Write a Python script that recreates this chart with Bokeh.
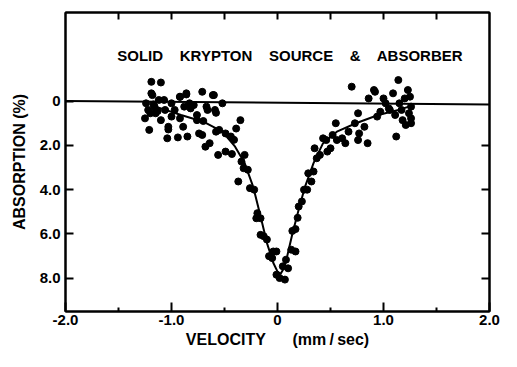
from bokeh.plotting import figure
from bokeh.models import Range1d, LinearAxis, FixedTicker, Label
from bokeh.embed import file_html
from bokeh.resources import INLINE

# ---- data ----
vel = [-1.19, -1.10, -1.18, -1.24, -1.22, -1.25, -1.21, -1.16, -1.15, -1.12,
       -1.07, -1.10, -1.06, -1.04, -1.03, -1.00, -1.00, -0.97, -0.94, -0.92,
       -0.92, -0.89, -0.86, -0.88, -0.85, -0.83, -0.82, -0.79, -0.76, -0.74,
       -0.71, -0.71, -0.68, -0.67, -0.64, -0.61, -0.59, -0.56, -0.58, -0.55,
       -0.52, -0.49, -0.49, -0.44, -0.43, -0.41, -0.39, -0.35, -0.37, -0.34,
       -0.31, -0.32, -0.28, -0.26, -0.22, -0.19, -0.16, -0.20, -0.16, -0.13,
       -0.10, -0.08, -0.05, -0.04, -0.01, -0.01, 0.02, 0.07, 0.05, 0.10,
       0.08, 0.13, 0.17, 0.14, 0.17, 0.19, 0.20, 0.23, 0.25, 0.28,
       0.29, 0.32, 0.34, 0.35, 0.37, 0.40, 0.43, 0.46, 0.47, 0.50,
       0.52, 0.55, 0.56, 0.61, 0.64, 0.67, 0.70, 0.73, 0.76, 0.76,
       0.77, 0.82, 0.85, 0.86, 0.91, 0.92, 0.94, 0.97, 1.00, 1.02,
       1.05, 1.06, 1.09, 1.11, 1.12, 1.14, 1.15, 1.17, 1.18, 1.20,
       1.21, 1.23, 1.25, 1.26, 1.26, 1.24, 1.26, -1.19, -0.92, -0.86,
       -0.60, -0.58, -0.66, -0.76, -1.03, -0.70, -1.13, -1.17, -1.20]
absorp = [-0.87, -0.84, -0.27, 0.10, 0.40, 0.78, 1.30, 0.25, 0.55, -0.05,
          -0.05, 0.86, 0.40, 1.68, 1.16, 0.70, 0.10, 0.40, 1.64, -0.20,
          0.78, 1.16, -0.30, 0.25, 1.60, 0.10, 0.33, 0.18, 0.86, 1.46,
          -0.42, 1.53, 2.06, 0.25, 1.90, -0.27, 0.40, 2.43, 1.38, 1.30,
          0.10, 2.28, 1.46, 1.60, 2.39, 1.75, 1.24, 0.86, 3.63, 2.73,
          2.43, 3.03, 3.10, 3.93, 4.00, 5.06, 5.29, 5.29, 6.04, 6.10,
          6.25, 7.00, 7.09, 6.79, 6.79, 7.84, 7.99, 8.06, 7.46, 7.55,
          7.16, 6.71, 6.79, 5.86, 5.78, 5.27, 4.76, 4.53, 4.00, 4.00,
          3.26, 3.63, 3.18, 2.13, 2.58, 2.43, 1.68, 1.76, 2.28, 2.13,
          1.53, 1.00, 1.76, 1.68, 1.90, 1.38, -0.65, 1.00, 0.55, 1.76,
          1.46, 1.16, 1.90, -0.12, -0.50, -0.42, 0.70, 0.48, -0.12, 0.10,
          0.33, 0.40, -0.35, 0.63, 1.60, -0.95, 0.10, 0.40, 0.86, -0.12,
          1.08, -0.50, -0.20, 0.25, 0.78, 0.55, 1.00, -0.35, -0.19, -0.35,
          -0.27, 0.53, 0.40, 0.63, 1.28, 0.90, 0.45, 0.15, 0.55]

fit_vel = [-1.15, -0.91, -0.70, -0.52, -0.40, -0.31, -0.23, -0.16, -0.10,
           -0.04, 0.00, 0.03, 0.06, 0.08, 0.14, 0.20, 0.26, 0.34, 0.43,
           0.56, 0.74, 0.95, 1.14, 1.24]
fit_abs = [0.25, 0.63, 0.93, 1.38, 2.06, 2.80, 3.86, 5.20, 6.40,
           7.30, 7.70, 7.80, 7.55, 7.24, 6.00, 4.90, 3.86, 2.80, 1.90,
           1.38, 1.00, 0.63, 0.40, 0.25]

base_vel = [-2.0, 2.0]
base_abs = [0.0, 0.15]

x_ticks = [-2, -1, 0, 1, 2]
x_tick_labels = ["-2.0", "-1.0", "0", "1.0", "2.0"]
x_minor_ticks = [-1.5, -0.5, 0.5, 1.5]
top_ticks = [-1.5, -1, -0.5, 0, 0.5, 1, 1.5]
y_ticks = [0, 2, 4, 6, 8]
y_tick_labels = ["0", "2.0", "4.0", "6.0", "8.0"]
right_ticks = [2, 4, 6, 8]

title_text = "SOLID\u00a0\u00a0\u00a0 KRYPTON\u00a0\u00a0\u00a0 SOURCE\u00a0\u00a0\u00a0 &\u00a0\u00a0\u00a0 ABSORBER"
x_label = "VELOCITY\u00a0\u00a0\u00a0\u00a0\u00a0 (mm\u2009/\u2009sec)"
y_label = "ABSORPTION (%)"

FONT = "Liberation Sans"

p = figure(width=501, height=351, x_range=Range1d(-2, 2), y_range=Range1d(9.5, -4.0),
           output_backend="svg", toolbar_location=None,
           min_border_left=65, min_border_right=12, min_border_top=12, min_border_bottom=40)
p.xgrid.visible = False
p.ygrid.visible = False
p.outline_line_color = "black"
p.outline_line_width = 2
p.background_fill_color = "white"
p.border_fill_color = "white"

def style_axis(ax, tick_in, labels=True):
    ax.axis_line_color = "black"
    ax.axis_line_width = 2
    ax.major_tick_in = tick_in
    ax.major_tick_out = 0
    ax.major_tick_line_width = 2
    ax.major_tick_line_color = "black"
    ax.minor_tick_out = 0
    ax.minor_tick_line_width = 2
    ax.minor_tick_line_color = "black"
    if labels:
        ax.major_label_text_font = FONT
        ax.major_label_text_font_style = "bold"
        ax.major_label_text_font_size = "15px"
        ax.major_label_text_color = "black"
        ax.axis_label_text_font = FONT
        ax.axis_label_text_font_style = "bold"
        ax.axis_label_text_font_size = "16px"
        ax.axis_label_text_color = "black"
    else:
        ax.major_label_text_color = None
        ax.major_label_text_font_size = "0px"
        ax.major_label_standoff = 0

xa = p.xaxis[0]
xa.ticker = FixedTicker(ticks=x_ticks, minor_ticks=x_minor_ticks)
xa.major_label_overrides = {t: l for t, l in zip(x_ticks, x_tick_labels)}
style_axis(xa, 9)
xa.minor_tick_in = 4
xa.major_label_standoff = 3
xa.axis_label = x_label
xa.axis_label_standoff = 3

ya = p.yaxis[0]
ya.ticker = FixedTicker(ticks=y_ticks, minor_ticks=[])
ya.major_label_overrides = {t: l for t, l in zip(y_ticks, y_tick_labels)}
style_axis(ya, 8)
ya.minor_tick_in = 0
ya.major_label_standoff = 5
ya.axis_label = y_label
ya.axis_label_standoff = 9

top = LinearAxis(ticker=FixedTicker(ticks=top_ticks, minor_ticks=[]))
style_axis(top, 7, labels=False)
top.minor_tick_in = 0
p.add_layout(top, "above")

right = LinearAxis(ticker=FixedTicker(ticks=right_ticks, minor_ticks=[]))
style_axis(right, 8, labels=False)
right.minor_tick_in = 0
p.add_layout(right, "right")

p.line(base_vel, base_abs, line_color="black", line_width=2)
p.line(fit_vel, fit_abs, line_color="black", line_width=2)
p.scatter(vel, absorp, size=7, fill_color="black", line_color="black")

p.add_layout(Label(x=0.12, y=-2.06, text=title_text, text_align="center",
                   text_baseline="middle", text_font=FONT, text_font_style="bold",
                   text_font_size="15px", text_color="black"))

open("out.html", "w").write(file_html(p, INLINE))
